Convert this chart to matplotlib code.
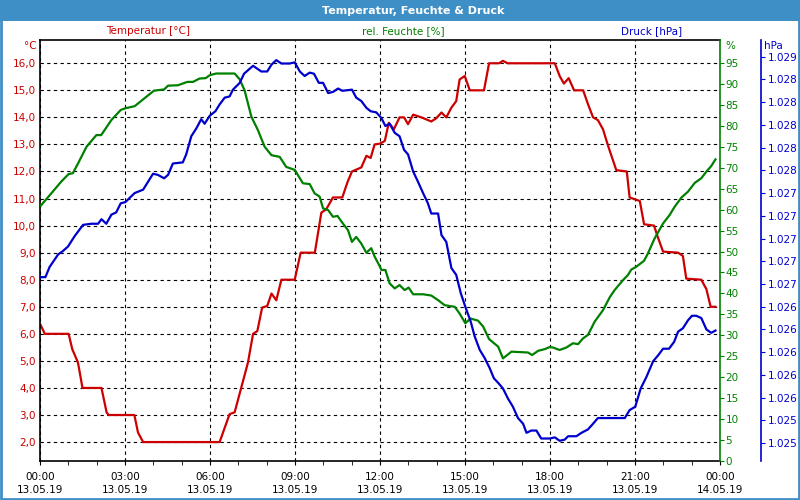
import matplotlib
matplotlib.use("Agg")
import matplotlib.pyplot as plt
from matplotlib.patches import Rectangle
from matplotlib.ticker import FixedLocator, FuncFormatter, MultipleLocator

# Temperature [°C] over the day (hours since 00:00 13.05.19)
temp_hours = [0.02, 0.17, 1.01, 1.14, 1.34, 1.5, 2.17, 2.35, 2.42, 3.33, 3.46, 3.64,
              6.34, 6.69, 6.87, 7.1, 7.34, 7.52, 7.67, 7.84, 8.02, 8.17, 8.34, 8.52,
              8.99, 9.2, 9.7, 9.93, 10.1, 10.34, 10.67, 10.85, 11.01, 11.34, 11.52,
              11.67, 11.81, 12.0, 12.17, 12.31, 12.49, 12.69, 12.85, 12.99, 13.17,
              13.46, 13.81, 13.99, 14.17, 14.34, 14.52, 14.69, 14.81, 14.99, 15.17,
              15.67, 15.85, 16.2, 16.34, 16.5, 18.17, 18.34, 18.49, 18.66, 18.85,
              19.17, 19.34, 19.52, 19.69, 19.87, 20.05, 20.34, 20.71, 20.81, 21.17,
              21.32, 21.67, 21.81, 21.99, 22.52, 22.69, 22.81, 23.34, 23.52, 23.67, 23.84]
temp_values = [6.33, 6.0, 6.0, 5.43, 4.94, 4.0, 4.0, 3.1, 3.0, 3.0, 2.35, 2.0,
               2.0, 3.03, 3.1, 4.0, 4.94, 6.0, 6.1, 6.97, 7.03, 7.49, 7.24, 8.0,
               8.0, 9.0, 9.0, 10.48, 10.6, 11.04, 11.04, 11.6, 12.0, 12.15, 12.58,
               12.5, 13.0, 13.03, 13.13, 13.8, 13.56, 14.0, 14.0, 13.75, 14.1,
               14.0, 13.85, 13.97, 14.18, 14.0, 14.36, 14.6, 15.4, 15.53, 15.0,
               15.0, 16.0, 16.0, 16.09, 16.0, 16.0, 15.53, 15.25, 15.45, 15.0,
               15.0, 14.49, 14.0, 13.9, 13.56, 12.95, 12.05, 12.0, 11.04, 10.91,
               10.05, 10.0, 9.56, 9.04, 9.0, 8.88, 8.04, 8.0, 7.65, 7.0, 7.0]

# relative humidity [%]
hum_hours = [0.02, 0.4, 0.75, 1.01, 1.16, 1.34, 1.64, 1.99, 2.16, 2.52, 2.85, 3.01,
             3.34, 3.69, 4.02, 4.38, 4.52, 4.87, 5.2, 5.4, 5.63, 5.85, 5.99, 6.22,
             6.87, 7.05, 7.22, 7.46, 7.69, 7.93, 8.17, 8.46, 8.69, 8.99, 9.28, 9.52,
             9.69, 9.87, 9.99, 10.17, 10.34, 10.5, 10.69, 10.87, 11.01, 11.16, 11.34,
             11.52, 11.69, 11.81, 11.99, 12.05, 12.19, 12.34, 12.52, 12.69, 12.87,
             13.01, 13.17, 13.52, 13.81, 14.05, 14.28, 14.64, 14.81, 15.01, 15.2,
             15.46, 15.64, 15.85, 16.17, 16.34, 16.64, 17.22, 17.37, 17.58, 17.81,
             17.99, 18.1, 18.34, 18.58, 18.81, 18.99, 19.17, 19.34, 19.58, 19.87,
             20.11, 20.28, 20.58, 20.75, 20.87, 21.05, 21.32, 21.46, 21.69, 21.99,
             22.22, 22.4, 22.64, 22.87, 23.11, 23.34, 23.52, 23.69, 23.84]
hum_values = [60.9, 63.9, 66.7, 68.5, 68.7, 71.0, 75.0, 77.8, 77.8, 81.4, 83.8, 84.2,
              84.7, 86.6, 88.4, 88.7, 89.6, 89.7, 90.5, 90.5, 91.3, 91.4, 92.1, 92.5,
              92.5, 91.1, 88.5, 82.2, 79.0, 75.0, 73.0, 72.6, 70.2, 69.5, 66.3, 66.1,
              63.9, 63.1, 60.3, 59.9, 58.3, 58.5, 56.7, 55.1, 52.3, 53.5, 51.9,
              49.7, 50.8, 48.8, 46.5, 45.6, 45.6, 42.4, 41.2, 42.0, 40.8,
              41.4, 39.8, 39.8, 39.5, 38.4, 37.2, 36.8, 35.2, 32.9, 34.0,
              33.5, 32.1, 29.1, 27.3, 24.5, 26.1, 25.9, 25.3, 26.3, 26.7,
              27.2, 27.1, 26.5, 27.1, 28.1, 27.9, 29.3, 30.1, 33.3, 36.0,
              39.1, 40.8, 43.2, 44.4, 45.7, 46.4, 47.8, 49.6, 53.1, 56.7,
              58.7, 60.7, 62.9, 64.3, 66.4, 67.5, 69.1, 70.4, 72.0]

# air pressure [hPa]
pres_hours = [0.02, 0.19, 0.34, 0.64, 0.81, 0.99, 1.22, 1.52, 1.81, 2.05, 2.17, 2.34,
              2.52, 2.69, 2.85, 3.01, 3.34, 3.64, 3.99, 4.16, 4.38, 4.52, 4.69, 5.04,
              5.16, 5.34, 5.52, 5.69, 5.81, 5.99, 6.19, 6.34, 6.52, 6.69, 6.81, 7.05,
              7.2, 7.52, 7.81, 8.02, 8.17, 8.34, 8.52, 8.81, 8.99, 9.17, 9.34, 9.52,
              9.67, 9.84, 9.99, 10.17, 10.34, 10.52, 10.67, 11.01, 11.16, 11.34, 11.52,
              11.67, 11.87, 12.05, 12.19, 12.34, 12.52, 12.69, 12.85, 12.99, 13.17,
              13.34, 13.52, 13.69, 13.81, 14.05, 14.17, 14.34, 14.52, 14.69, 14.85,
              15.01, 15.2, 15.34, 15.52, 15.69, 15.87, 16.02, 16.17, 16.34, 16.52,
              16.69, 16.87, 17.05, 17.17, 17.34, 17.52, 17.69, 17.99, 18.17, 18.34,
              18.52, 18.64, 18.93, 19.11, 19.34, 19.52, 19.69, 19.93, 20.11, 20.64,
              20.81, 21.01, 21.2, 21.4, 21.64, 21.81, 21.99, 22.2, 22.38, 22.52,
              22.69, 22.87, 23.01, 23.16, 23.34, 23.52, 23.69, 23.84]
pres_values = [1026.66, 1026.66, 1026.75, 1026.86, 1026.89, 1026.93, 1027.02, 1027.12,
               1027.13, 1027.13, 1027.17, 1027.13, 1027.21, 1027.23, 1027.31, 1027.32,
               1027.40, 1027.43, 1027.57, 1027.56, 1027.53, 1027.56, 1027.66, 1027.67,
               1027.74, 1027.90, 1027.97, 1028.05, 1028.01, 1028.08, 1028.12, 1028.18,
               1028.24, 1028.25, 1028.31, 1028.37, 1028.45, 1028.52, 1028.47, 1028.47,
               1028.53, 1028.57, 1028.54, 1028.54, 1028.55, 1028.47, 1028.43, 1028.46,
               1028.45, 1028.37, 1028.37, 1028.28, 1028.29, 1028.32, 1028.30, 1028.31,
               1028.24, 1028.21, 1028.15, 1028.12, 1028.11, 1028.06, 1027.99, 1028.01,
               1027.93, 1027.90, 1027.78, 1027.74, 1027.59, 1027.50, 1027.40, 1027.31,
               1027.22, 1027.22, 1027.03, 1026.97, 1026.74, 1026.68, 1026.52, 1026.40,
               1026.27, 1026.14, 1026.02, 1025.95, 1025.86, 1025.77, 1025.73, 1025.68,
               1025.59, 1025.52, 1025.42, 1025.37, 1025.29, 1025.31, 1025.31, 1025.24,
               1025.24, 1025.25, 1025.22, 1025.23, 1025.26, 1025.26, 1025.29, 1025.32,
               1025.37, 1025.42, 1025.42, 1025.42, 1025.42, 1025.49, 1025.52, 1025.68,
               1025.78, 1025.92, 1025.97, 1026.03, 1026.03, 1026.09, 1026.18, 1026.21,
               1026.28, 1026.32, 1026.32, 1026.30, 1026.20, 1026.17, 1026.19]

x_ticks = [0, 3, 6, 9, 12, 15, 18, 21, 24]
x_labels = ["00:00\n13.05.19", "03:00\n13.05.19", "06:00\n13.05.19", "09:00\n13.05.19",
            "12:00\n13.05.19", "15:00\n13.05.19", "18:00\n13.05.19", "21:00\n13.05.19",
            "00:00\n14.05.19"]
temp_ticks = list(range(2, 17))
hum_ticks = list(range(0, 100, 5))
pres_ticks = [1025.2 + 0.2 * i for i in range(18)]

RED = "#cc0000"
GREEN = "#008000"
BLUE = "#0000cc"
BAR = "#3d8fc6"

plt.rcParams["font.family"] = "DejaVu Sans"
plt.rcParams["font.size"] = 7.5

fig = plt.figure(figsize=(8, 5), dpi=100)
fig.patch.set_facecolor("white")

# title bar and frame
fig.add_artist(Rectangle((0, 1 - 21 / 500), 1, 21 / 500, transform=fig.transFigure,
                         facecolor=BAR, edgecolor="none"))
fig.add_artist(Rectangle((0.001, 0.002), 0.998, 0.996, transform=fig.transFigure,
                         facecolor="none", edgecolor=BAR, linewidth=2))
fig.text(413 / 800, 1 - 10.5 / 500, "Temperatur, Feuchte & Druck", color="white",
         fontsize=8, fontweight="bold", ha="center", va="center")

fig.text(148 / 800, 1 - 31 / 500, "Temperatur [°C]", color=RED, ha="center", va="center")
fig.text(403 / 800, 1 - 31 / 500, "rel. Feuchte [%]", color=GREEN, ha="center", va="center")
fig.text(652 / 800, 1 - 31 / 500, "Druck [hPa]", color=BLUE, ha="center", va="center")
fig.text(37 / 800, 1 - 46 / 500, "°C", color=RED, ha="right", va="center")
fig.text(725 / 800, 1 - 46 / 500, "%", color=GREEN, ha="left", va="center")
fig.text(764 / 800, 1 - 46 / 500, "hPa", color=BLUE, ha="left", va="center")

ax = fig.add_axes([40 / 800, 1 - 461 / 500, 680 / 800, 421 / 500])
ax2 = ax.twinx()
ax3 = ax.twinx()

ax.plot(temp_hours, temp_values, color=RED, linewidth=1.6)
ax2.plot(hum_hours, hum_values, color=GREEN, linewidth=1.6)
ax3.plot(pres_hours, pres_values, color=BLUE, linewidth=1.6)

ax.set_xlim(0, 24)
ax.set_ylim(1.3, 16.86)
ax2.set_ylim(0, 100.5)
ax3.set_ylim(1025.042, 1028.747)

ax.set_xticks(x_ticks)
ax.set_xticklabels(x_labels, linespacing=1.35)
ax.xaxis.set_minor_locator(MultipleLocator(1))
ax.tick_params(axis="x", which="both", direction="out", length=3, pad=5, colors="black")

ax.set_yticks(temp_ticks)
ax.yaxis.set_major_formatter(FuncFormatter(lambda v, p: f"{v:.1f}".replace(".", ",")))
ax.tick_params(axis="y", length=0, pad=3, labelcolor=RED)
ax.grid(True, color="black", linestyle=(0, (3, 3)), linewidth=0.8)

ax2.yaxis.set_major_locator(FixedLocator(hum_ticks))
ax2.tick_params(axis="y", direction="out", length=3, pad=1, colors=GREEN)
ax2.spines["right"].set_color(GREEN)
ax2.spines["right"].set_linewidth(1.2)

ax3.spines["right"].set_position(("axes", (760.7 - 40) / 680))
ax3.spines["right"].set_color(BLUE)
ax3.spines["right"].set_linewidth(1.2)
ax3.yaxis.set_major_locator(FixedLocator(pres_ticks))
ax3.yaxis.set_major_formatter(
    FuncFormatter(lambda v, p: f"{int(round(v)):,}".replace(",", ".")))
ax3.tick_params(axis="y", direction="out", length=3, pad=2, colors=BLUE)

for a in (ax2, ax3):
    a.spines["left"].set_visible(False)
    a.spines["top"].set_visible(False)
    a.spines["bottom"].set_visible(False)
ax.spines["right"].set_visible(False)
for s in ("left", "top", "bottom"):
    ax.spines[s].set_linewidth(1.2)

fig.savefig("out.png", dpi=100)
